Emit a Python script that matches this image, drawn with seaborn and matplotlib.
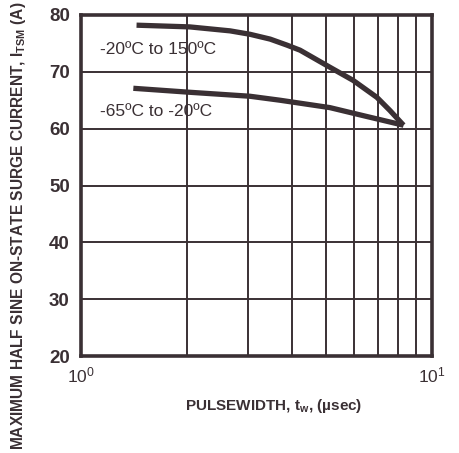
import matplotlib
matplotlib.use("Agg")
import matplotlib.pyplot as plt
import seaborn as sns
import pandas as pd
import numpy as np
from matplotlib.ticker import LogLocator, NullFormatter

# Surge current derating curves (pulse width in µs, current in A)
hot_pw = [1.44, 2.04, 2.66, 3.03, 3.46, 3.86, 4.21, 5.12, 5.96, 6.97, 7.59, 8.3]
hot_cur = [78.2, 77.9, 77.2, 76.6, 75.75, 74.7, 73.8, 70.8, 68.5, 65.5, 63.2, 60.6]
cold_pw = [1.41, 2.04, 3.03, 3.69, 5.12, 6.36, 8.3]
cold_cur = [67.1, 66.4, 65.7, 65.0, 63.7, 62.3, 60.6]
series_names = ["-20ºC to 150ºC", "-65ºC to -20ºC"]
y_ticks = [20, 30, 40, 50, 60, 70, 80]
x_ticks = [1, 10]
x_tick_labels = ["$10^0$", "$10^1$"]

ink = "#3a3034"

sns.set_theme(style="white")
plt.rcParams["font.family"] = ["Liberation Sans", "DejaVu Sans"]
plt.rcParams["mathtext.default"] = "regular"

df = pd.DataFrame({
    "pw": hot_pw + cold_pw,
    "cur": hot_cur + cold_cur,
    "range": [series_names[0]] * len(hot_pw) + [series_names[1]] * len(cold_pw),
})

fig = plt.figure(figsize=(4.6, 4.53), dpi=100)
fig.patch.set_facecolor("white")
ax = fig.add_axes([0.176, 0.214, 0.763, 0.753])

sns.lineplot(data=df, x="pw", y="cur", hue="range", units="range", estimator=None,
             palette=[ink, ink], linewidth=3.8, legend=False, ax=ax, sort=True,
             solid_joinstyle="round", solid_capstyle="butt", zorder=3)

ax.set_xscale("log")
ax.set_xlim(1, 10)
ax.set_ylim(20, 80)
ax.set_xticks(x_ticks)
ax.set_xticklabels(x_tick_labels)
ax.xaxis.set_minor_locator(LogLocator(base=10, subs=np.arange(2, 10)))
ax.xaxis.set_minor_formatter(NullFormatter())
ax.set_yticks(y_ticks)

ax.grid(True, which="both", axis="x", color=ink, linewidth=1.4)
ax.grid(True, which="major", axis="y", color=ink, linewidth=1.4)
ax.tick_params(axis="both", which="both", length=0)
ax.tick_params(axis="y", labelsize=13.5, pad=8, colors=ink)
ax.tick_params(axis="x", labelsize=12.5, pad=7, colors=ink)
for lab in ax.get_yticklabels():
    lab.set_fontweight("bold")
for sp in ax.spines.values():
    sp.set_color(ink)
    sp.set_linewidth(2.6)

ax.set_xlabel("")
ax.set_ylabel("")

ax.text(1.13, 73.9, series_names[0], fontsize=12.5, color=ink, va="center", ha="left")
ax.text(1.13, 63.0, series_names[1], fontsize=12.5, color=ink, va="center", ha="left")

fig.text(0.595, 0.103, "PULSEWIDTH, t$_w$, (µsec)", fontsize=11, color=ink,
         ha="center", va="center", fontweight="bold")
fig.text(0.04, 0.006, "MAXIMUM HALF SINE ON-STATE SURGE CURRENT, I$_{TSM}$ (A)",
         fontsize=11.2, color=ink, rotation=90, ha="center", va="bottom",
         fontweight="bold")

fig.savefig("out.png", dpi=100, facecolor="white")
